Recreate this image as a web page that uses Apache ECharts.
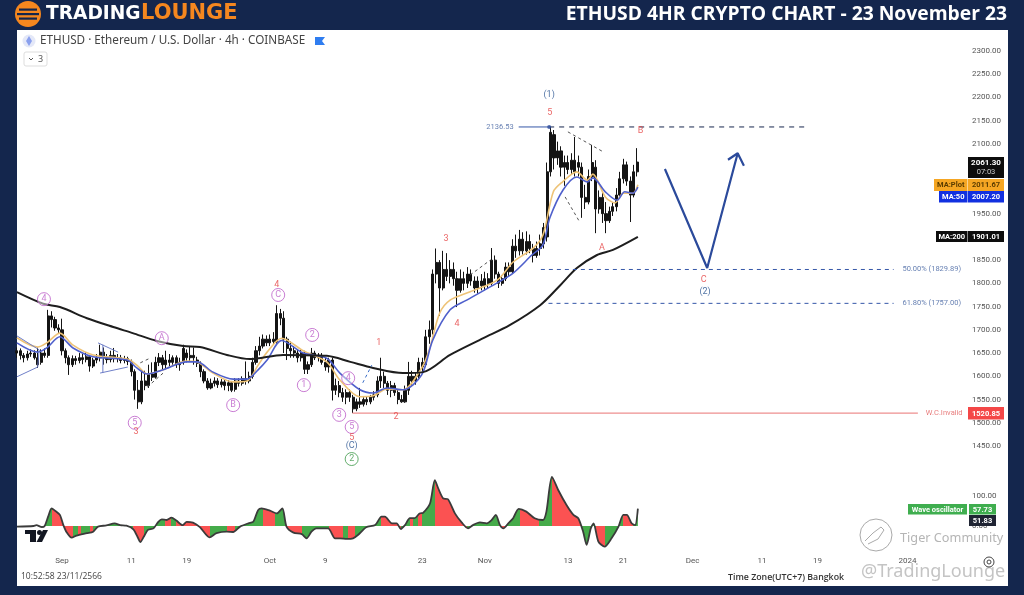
<!DOCTYPE html>
<html>
<head>
<meta charset="utf-8">
<title>ETHUSD 4HR CRYPTO CHART</title>
<script src="https://cdn.jsdelivr.net/npm/echarts@6/dist/echarts.min.js"></script>
<style>
html, body { margin: 0; padding: 0; background: #14264d; }
#chart { width: 1024px; height: 595px; }
</style>
</head>
<body>
<div id="chart"></div>
<script>
// x values everywhere are days counted from 1 Sep 2023
var xTickDays = [0, 10, 18, 30, 38, 52, 61, 73, 81, 91, 101, 109, 122, 130];
var xTickLabels = ["Sep", "11", "19", "Oct", "9", "23", "Nov", "13", "21", "Dec", "11", "19", "2024", ""];
var priceTicks = [2300, 2250, 2200, 2150, 2100, 2050, 2000, 1950, 1900, 1850, 1800, 1750, 1700, 1650, 1600, 1550, 1500, 1450];
var oscTicks = [100, 0];

var candleStartDay = -6.5;
var candleStepDays = 0.5;
// open, close, low, high
var candles = [
	[1650,1655,1640,1662],[1655,1645,1636,1660],[1645,1640,1630,1650],[1640,1648,1634,1655],[1648,1650,1642,1658],
	[1650,1640,1636,1656],[1640,1625,1618,1662],[1630,1650,1625,1658],[1650,1645,1640,1660],[1645,1730,1640,1743],
	[1730,1722,1705,1740],[1722,1704,1698,1728],[1704,1700,1692,1712],[1700,1655,1645,1724],[1655,1640,1628,1660],
	[1640,1625,1603,1645],[1625,1638,1620,1645],[1638,1634,1625,1644],[1634,1640,1628,1650],[1640,1636,1626,1648],
	[1636,1642,1630,1652],[1642,1622,1610,1646],[1622,1635,1618,1640],[1635,1640,1628,1648],[1640,1652,1632,1668],
	[1652,1640,1625,1662],[1640,1636,1628,1648],[1636,1645,1630,1655],[1645,1638,1630,1661],[1638,1640,1630,1648],
	[1640,1634,1628,1646],[1634,1638,1628,1644],[1638,1632,1624,1642],[1632,1610,1600,1636],[1610,1570,1550,1615],
	[1570,1545,1530,1592],[1545,1590,1540,1610],[1590,1580,1570,1612],[1580,1605,1575,1625],[1605,1598,1590,1630],
	[1598,1630,1595,1642],[1630,1640,1622,1650],[1640,1625,1615,1646],[1625,1635,1615,1655],[1635,1630,1622,1648],
	[1630,1640,1625,1645],[1640,1625,1618,1645],[1625,1630,1612,1640],[1630,1660,1625,1668],[1650,1640,1630,1658],
	[1640,1645,1632,1665],[1645,1640,1625,1662],[1635,1628,1620,1642],[1628,1610,1598,1632],[1610,1590,1585,1615],
	[1590,1575,1571,1596],[1575,1585,1572,1595],[1585,1590,1578,1598],[1590,1582,1575,1596],[1582,1588,1576,1594],
	[1588,1580,1570,1594],[1580,1586,1568,1592],[1586,1570,1566,1590],[1572,1590,1567,1596],[1590,1585,1578,1596],
	[1585,1595,1580,1600],[1595,1590,1582,1632],[1590,1600,1585,1610],[1600,1630,1595,1640],[1630,1655,1625,1665],
	[1655,1665,1645,1685],[1665,1680,1660,1690],[1680,1672,1665,1688],[1672,1680,1665,1690],[1680,1675,1668,1695],
	[1675,1735,1670,1753],[1735,1725,1710,1745],[1725,1680,1650,1740],[1680,1660,1635,1685],[1660,1655,1640,1675],
	[1655,1650,1640,1665],[1650,1640,1630,1658],[1640,1650,1632,1658],[1650,1615,1605,1655],[1615,1625,1605,1632],
	[1625,1650,1620,1661],[1650,1640,1635,1655],[1640,1645,1632,1650],[1645,1630,1625,1650],[1630,1620,1612,1640],
	[1620,1635,1608,1640],[1635,1570,1548,1640],[1570,1580,1560,1595],[1580,1565,1555,1590],[1565,1555,1545,1575],
	[1555,1565,1540,1572],[1565,1555,1545,1572],[1555,1530,1521,1560],[1530,1545,1525,1552],[1545,1540,1532,1575],
	[1540,1550,1535,1555],[1550,1545,1538,1556],[1545,1555,1540,1560],[1555,1560,1548,1568],[1560,1590,1555,1600],
	[1590,1600,1575,1640],[1600,1585,1575,1610],[1585,1570,1560,1590],[1570,1580,1555,1590],[1580,1565,1558,1586],
	[1565,1550,1540,1572],[1550,1545,1543,1560],[1545,1570,1543,1580],[1570,1600,1560,1631],[1600,1590,1580,1612],
	[1590,1600,1582,1608],[1600,1630,1595,1640],[1630,1620,1610,1640],[1625,1685,1620,1700],[1685,1700,1670,1720],
	[1700,1820,1690,1830],[1820,1845,1800,1875],[1845,1790,1730,1850],[1790,1830,1785,1870],[1830,1815,1805,1865],
	[1815,1830,1800,1850],[1830,1810,1795,1845],[1810,1785,1749,1825],[1785,1810,1780,1830],[1810,1800,1785,1825],
	[1800,1820,1790,1835],[1820,1805,1795,1830],[1805,1790,1780,1815],[1790,1805,1778,1815],[1805,1795,1785,1820],
	[1795,1810,1785,1825],[1810,1800,1790,1822],[1800,1850,1795,1876],[1850,1820,1810,1860],[1820,1800,1790,1825],
	[1800,1810,1795,1818],[1810,1835,1805,1845],[1835,1825,1815,1845],[1825,1880,1820,1895],[1880,1870,1855,1905],
	[1870,1895,1860,1915],[1895,1870,1862,1910],[1870,1890,1862,1912],[1890,1875,1865,1905],[1875,1860,1845,1885],
	[1860,1875,1855,1890],[1875,1885,1860,1905],[1885,1920,1875,1930],[1900,2040,1890,2060],[2040,2125,2030,2136.5],
	[2120,2070,2045,2130],[2070,2085,2055,2105],[2085,2050,2030,2095],[2050,2060,2010,2075],[2060,2045,2035,2075],
	[2045,2065,2035,2080],[2065,2040,2030,2115],[2060,2050,2030,2075],[2050,1985,1941,2060],[1985,1975,1960,2012],
	[1975,2030,1970,2045],[2030,2060,2020,2098],[2050,1960,1908,2065],[1960,1985,1950,2000],[1985,1950,1930,1995],
	[1950,1935,1908,1975],[1935,1955,1930,1965],[1955,1965,1945,1975],[1965,1990,1955,2005],[1990,2025,1985,2040],
	[2025,2055,2015,2068],[2055,2020,2010,2062],[2020,1990,1932,2030],[1990,2040,1985,2055],[2040,2061,2030,2091]
];

var ma200 = [[-6.5,1781],[-2.7,1756],[-0.3,1749],[3.6,1725],[7.4,1706],[10.2,1693],[13.7,1676],[17.5,1665],[19.9,1663],
	[23.8,1646],[27.1,1637],[31.9,1646],[38.2,1644],[41.6,1631],[44.9,1618],[49.2,1607],[52.1,1609],[56,1646],[60.8,1682],
	[64.6,1710],[69,1753],[71.9,1796],[74.3,1833],[77.2,1861],[79.5,1872],[83.1,1900]];
var ma50 = [[-6.5,1672],[-3.5,1652],[-2.2,1661],[-0.3,1685],[1.6,1661],[4.5,1642],[9.4,1635],[10.8,1618],[12.3,1605],
	[14.6,1614],[18,1631],[19.5,1631],[21.8,1609],[24.7,1594],[26.7,1594],[28.3,1614],[29.6,1635],[31.7,1677],[34.8,1650],
	[38.2,1639],[40.1,1607],[43,1571],[44.9,1564],[46.9,1575],[49.2,1571],[51.9,1603],[53.5,1678],[56,1743],[58.4,1764],
	[62.8,1801],[65.1,1822],[67.8,1861],[69.4,1883],[70.4,1941],[72.3,2001],[74.3,2029],[75.8,2018],[76.6,2027],[78.4,1997],
	[80.1,1979],[81.2,1997],[82.4,1994],[83.1,2007]];
var maPlot = [[-6.5,1683],[-3.5,1663],[-2.2,1672],[-0.3,1693],[1.6,1667],[4.5,1646],[9.4,1637],[10.8,1624],[12.3,1605],
	[14.6,1614],[18,1633],[19.5,1631],[21.8,1607],[24.7,1588],[26.7,1590],[28.3,1624],[29.6,1652],[31.7,1682],[34.8,1655],
	[38.2,1631],[40.1,1592],[43,1556],[44.9,1558],[46.9,1573],[49.2,1571],[51.9,1618],[53,1657],[54.5,1736],[56,1764],
	[58.9,1782],[62.8,1807],[65.1,1846],[68,1876],[69.4,1904],[70.9,1997],[72.2,2018],[74.3,2040],[75.8,2022],[76.6,2035],
	[78.4,1986],[79.8,1973],[81,1994],[82.4,1994],[83.1,2012]];

var oscillator = [[-6.5,-2],[-4.1,0],[-3.7,3],[-2.9,-4],[-2.5,0],[-2,31],[-1.5,59],[-1,51],[-0.3,37],[0.2,3],[0.7,-22],
	[1.4,-39],[2.1,-32],[3.6,-24],[4.5,-19],[5.2,-2],[6.4,2],[7.6,9],[8.4,3],[9.3,1],[10.3,-11],[11,-41],[11.3,-54],[11.8,-36],
	[12.4,-13],[13.2,-8],[13.9,14],[14.4,22],[15.1,20],[15.8,28],[16.5,18],[17.4,3],[18,14],[18.9,11],[19.9,-4],[21.3,-38],
	[22.3,-24],[23.8,-19],[24.7,-20],[25.7,-2],[26.9,9],[27.6,14],[28.3,53],[28.8,59],[30,51],[31,42],[31.8,59],[32.4,-2],
	[33.4,-22],[34.6,-27],[35.3,-41],[36,-19],[36.7,-8],[38.4,-8],[39.4,-41],[40.1,-41],[41.1,-43],[42,-41],[42.7,-30],
	[43.9,-4],[45.2,3],[46.1,31],[46.6,31],[47.6,9],[48.3,9],[48.9,-10],[49.5,3],[50.2,26],[50.9,26],[51.6,42],[52.1,44],
	[53.1,75],[53.8,153],[54.3,125],[55,92],[55.7,89],[56.7,42],[57.7,11],[58.6,-8],[59.3,3],[60.3,12],[61.3,9],[62,20],
	[62.6,37],[63.2,3],[63.7,-8],[64.4,9],[65.1,26],[65.9,57],[67,48],[68.2,26],[69.4,20],[69.9,48],[70.7,164],[71.6,120],
	[72.8,70],[73.8,37],[74.5,26],[75.2,-19],[75.7,-63],[76.3,-8],[76.7,9],[77.4,-52],[78.3,-69],[79.3,-41],[80.3,-2],[81,37],
	[81.5,37],[82.2,9],[82.7,3],[83.1,57.73]];
// the fill changes colour at each break, the first colour runs up to the first break
var oscBreaks = [-1.5,1.6,2.3,2.8,4,4.5,10.3,11.8,14.9,15.7,16.5,21.3,23.8,24.9,29,30.8,32.4,34.6,38.6,40.6,41.3,42.3,46.1,
	48.9,50.2,50.7,51.4,51.9,53.8,58.4,63,63.9,66.1,68.9,70.7,75.1,77.1,78.3,81,82.4,90];
var oscFirstIsGreen = true;

var wavePurple = [[-2.6,1766,"4"],[14.4,1682,"A"],[10.5,1500,"5"],[24.7,1538,"B"],[31.2,1775,"C"],[36.1,1689,"2"],
	[34.9,1581,"1"],[41.3,1596,"4"],[40,1517,"3"],[41.8,1491,"5"]];
var waveGreen = [[41.8,1422,"2"]];
var waveRed = [[10.7,1480,"3"],[31,1797,"4"],[41.8,1467,"5"],[45.7,1672,"1"],[48.2,1513,"2"],[55.4,1895,"3"],[57,1713,"4"],
	[70.4,2167,"5"],[83.5,2128,"B"],[77.9,1876,"A"],[92.6,1807,"C"]];
var waveBlue = [[41.8,1450,"(C)"],[70.3,2205,"(1)"],[92.8,1781,"(2)"]];
var levelLabels = [[63.2,2136.5,"2136.53","#3f5f9f"],[125.5,1830,"50.00% (1829.89)","#3f5f9f"],[125.5,1757,"61.80% (1757.00)","#3f5f9f"],
	[127.3,1521,"W.C.Invalid","#e25c5c"]];

var highLevelSolid = [[65.9,2136.53],[70.3,2136.53]];
var highLevelDash = [[70.3,2136.53],[107.6,2136.53]];
var fibLevel50 = [[69.1,1829.89],[120,1829.89]];
var fibLevel618 = [[70.2,1757],[120,1757]];
var invalidLevel = [[41.9,1520.85],[123.5,1520.85]];
var projection = [[87,2046],[93.1,1833],[97.5,2080]];
var projectionHead = [[96.1,2066],[97.5,2080],[98.4,2053]];
var wedgeLeft = [[-6.5,1687],[-3.3,1657],[-3.5,1620],[-6.5,1599]];
var wedgeTop = [[5.2,1672],[8.1,1652]];
var wedgeStem = [[5.9,1668],[5.9,1607]];
var wedgeBottom = [[5.5,1607],[9.5,1620]];
var dashBlue = [[43.4,1586],[44.7,1624]];
var dashGrey = [
	[[73,2126],[78.1,2083]],
	[[72.6,1986],[74.7,1932]],
	[[12.3,1577],[14.6,1607]],
	[[11.3,1629],[12.7,1639]],
	[[58.9,1818],[61.8,1850]]
];

var NAVY = "#14264d";
var BLUE = "#4f60cc";
var ORANGE = "#eec377";
var TEXT_FONT = "Roboto";

function getCandleData() {
	var rows = [];
	for (var i = 0; i < candles.length; i++) {
		rows.push([candleStartDay + i * candleStepDays].concat(candles[i]));
	}
	return rows;
}

function getOscPieces() {
	var pieces = [];
	var low = -10;
	var green = oscFirstIsGreen;
	for (var i = 0; i < oscBreaks.length; i++) {
		pieces.push({ min : low, max : oscBreaks[i], color : green ? "#45ab4a" : "#fb5252" });
		low = oscBreaks[i];
		green = !green;
	}
	return pieces;
}

function lineSeries(points, color, width, type, smooth) {
	return {
		type : "line",
		data : points,
		showSymbol : false,
		smooth : smooth ? 0.3 : false,
		silent : true,
		lineStyle : { color : color, width : width, type : type || "solid" },
		z : 3
	};
}

function waveSeries(points, color, circled, fontSize) {
	return {
		type : "scatter",
		data : points,
		symbol : "circle",
		symbolSize : circled ? 13 : 1,
		silent : true,
		itemStyle : circled ? { color : "rgba(255,255,255,0.6)", borderColor : color, borderWidth : 1 } : { color : "rgba(0,0,0,0)" },
		label : {
			show : true,
			position : "inside",
			color : color,
			fontSize : fontSize,
			fontFamily : TEXT_FONT,
			formatter : function(p) { return p.value[2]; }
		},
		z : 5
	};
}

function levelTextSeries() {
	return {
		type : "scatter",
		data : levelLabels.map(function(row) {
			return { value : row, label : { color : row[3] } };
		}),
		symbolSize : 1,
		silent : true,
		itemStyle : { color : "rgba(0,0,0,0)" },
		label : {
			show : true,
			position : "inside",
			fontSize : 7.5,
			fontFamily : TEXT_FONT,
			formatter : function(p) { return p.value[2]; }
		},
		z : 5
	};
}

function rect(x, y, w, h, fill, z) {
	return { type : "rect", shape : { x : x, y : y, width : w, height : h }, style : { fill : fill }, z : z === undefined ? 20 : z, silent : true };
}

function text(x, y, str, fill, font, align) {
	return {
		type : "text", x : x, y : y, z : 21, silent : true,
		style : { text : str, fill : fill, font : font, textAlign : align || "left", textVerticalAlign : "middle" }
	};
}

function poly(points, fill) {
	return { type : "polygon", shape : { points : points }, style : { fill : fill }, z : 21, silent : true };
}

function tag(x, y, w, h, str, fill, color) {
	return [
		rect(x, y, w, h, fill),
		text(x + w / 2, y + h / 2 + 0.5, str, color, "bold 7.5px " + TEXT_FONT, "center")
	];
}

function getGraphics() {
	var tagFont = "bold 8px " + TEXT_FONT;
	var items = [
		rect(17, 30, 991, 556, "#ffffff", -10),
		// logo
		{ type : "circle", shape : { cx : 28, cy : 14, r : 13 }, style : { fill : "#f5871f" }, z : 19, silent : true },
		rect(19, 8.5, 18, 2.2, NAVY),
		rect(17, 13, 22, 2.2, NAVY),
		rect(19, 17.5, 18, 2.2, NAVY),
		text(46, 14, "TRADING", "#ffffff", "bold 18.6px 'DejaVu Sans'"),
		text(141, 14, "LOUNGE", "#f5871f", "bold 21px 'DejaVu Sans'"),
		text(1007, 15, "ETHUSD 4HR CRYPTO CHART - 23 November 23", "#ffffff", "bold 19.3px 'Open Sans'", "right"),
		// symbol header
		{ type : "circle", shape : { cx : 29, cy : 41, r : 6.5 }, style : { fill : "#e4e8f8" }, z : 21, silent : true },
		poly([[29, 36], [32, 41], [29, 46], [26, 41]], "#8aa0ee"),
		text(40, 41, "ETHUSD · Ethereum / U.S. Dollar · 4h · COINBASE", "#444444", "11.7px 'Noto Sans'"),
		poly([[315, 37], [325, 37], [322, 41], [325, 45], [315, 45]], "#2f7df0"),
		{ type : "rect", shape : { x : 24, y : 52, width : 23, height : 14, r : 2 }, style : { fill : "#ffffff", stroke : "#dddddd" }, z : 21, silent : true },
		{ type : "polyline", shape : { points : [[29, 58], [31, 60], [33, 58]] }, style : { stroke : "#555555", fill : null, lineWidth : 1 }, z : 21, silent : true },
		text(38, 59, "3", "#555555", "9px 'Noto Sans'"),
		// trading view mark
		rect(25, 530, 11, 4, "#131722"),
		rect(30, 530, 6, 12, "#131722"),
		{ type : "circle", shape : { cx : 39.5, cy : 532.5, r : 2.5 }, style : { fill : "#131722" }, z : 21, silent : true },
		poly([[43, 530], [48, 530], [42, 542], [36.5, 542]], "#131722"),
		// footer
		text(21, 577, "10:52:58 23/11/2566", "#444444", "8.5px 'Open Sans'"),
		text(728, 577, "Time Zone(UTC+7) Bangkok", "#333333", "600 8.8px 'Open Sans'"),
		// watermarks
		{ type : "circle", shape : { cx : 876, cy : 535, r : 16 }, style : { fill : "rgba(255,255,255,0.4)", stroke : "#aaaaaa", lineWidth : 1 }, z : 21, silent : true },
		{ type : "polyline", shape : { points : [[865, 541], [873, 533], [881, 527], [884, 530], [878, 539], [868, 544]] }, style : { stroke : "#aaaaaa", fill : null, lineWidth : 1 }, z : 21, silent : true },
		{ type : "text", x : 900, y : 538, z : 21, silent : true, style : { text : "Tiger Community", fill : "#b5b5b5", font : "12.7px 'Noto Sans'", textVerticalAlign : "middle" } },
		{ type : "text", x : 861, y : 572, z : 21, silent : true, style : { text : "@TradingLounge", fill : "#c4c4c4", font : "18px 'Noto Sans'", textVerticalAlign : "middle" } },
		// gear
		{ type : "circle", shape : { cx : 989, cy : 562, r : 5 }, style : { fill : "none", stroke : "#444444", lineWidth : 1 }, z : 21, silent : true },
		{ type : "circle", shape : { cx : 989, cy : 562, r : 2 }, style : { fill : "none", stroke : "#444444", lineWidth : 1 }, z : 21, silent : true },
		// price tags
		rect(968, 157, 36, 21, "#0d0d0d"),
		text(986, 163, "2061.30", "#ffffff", tagFont, "center"),
		text(986, 172, "07:03", "#cccccc", "7.5px " + TEXT_FONT, "center")
	];
	return items
		.concat(tag(934, 179, 33.5, 12, "MA:Plot", "#f5a623", "#5a3c00"))
		.concat(tag(968, 179, 36, 12, "2011.67", "#f5a623", "#5a3c00"))
		.concat(tag(939, 191, 28.5, 11.5, "MA:50", "#1230e0", "#ffffff"))
		.concat(tag(968, 191, 36, 11.5, "2007.20", "#1230e0", "#ffffff"))
		.concat(tag(936, 231, 31.5, 11, "MA:200", "#0d0d0d", "#ffffff"))
		.concat(tag(968, 231, 36, 11, "1901.01", "#0d0d0d", "#ffffff"))
		.concat(tag(968, 407, 36, 12.5, "1520.85", "#f44747", "#ffffff"))
		.concat(tag(908, 504, 59, 10.5, "Wave oscillator", "#3fae4f", "#ffffff"))
		.concat(tag(969, 504, 27, 10.5, "57.73", "#3fae4f", "#ffffff"))
		.concat(tag(969, 515, 27, 11, "51.83", "#1f2433", "#ffffff"));
}

function getSeries() {
	var series = [
		{
			name : "oscFill",
			type : "line",
			xAxisIndex : 1,
			yAxisIndex : 1,
			data : oscillator,
			showSymbol : false,
			smooth : 0.25,
			silent : true,
			lineStyle : { width : 0 },
			areaStyle : { opacity : 1, origin : 0 },
			z : 2
		},
		{
			name : "oscLine",
			type : "line",
			xAxisIndex : 1,
			yAxisIndex : 1,
			data : oscillator,
			showSymbol : false,
			smooth : 0.25,
			silent : true,
			lineStyle : { color : "#3b3b3b", width : 1.8 },
			z : 3
		},
		{
			name : "ETHUSD",
			type : "candlestick",
			data : getCandleData(),
			barWidth : 2.6,
			silent : true,
			itemStyle : { color : "#141414", color0 : "#141414", borderColor : "#141414", borderColor0 : "#141414", borderWidth : 1 },
			z : 2
		},
		lineSeries(maPlot, ORANGE, 1.6, "solid", true),
		lineSeries(ma50, BLUE, 1.6, "solid", true),
		lineSeries(ma200, "#1e1e1e", 2, "solid", true),
		lineSeries(highLevelSolid, "#3557a8", 1),
		lineSeries(highLevelDash, "#16264d", 1, [5, 5]),
		lineSeries(fibLevel50, "#3557a8", 1, [4, 4]),
		lineSeries(fibLevel618, "#3557a8", 1, [4, 4]),
		lineSeries(invalidLevel, "#ee8f8f", 1.4),
		lineSeries(projection, "#2b4a9b", 2.2),
		lineSeries(projectionHead, "#2b4a9b", 2.2),
		lineSeries(wedgeLeft, "#6f7fc8", 1),
		lineSeries(wedgeTop, "#6f7fc8", 1),
		lineSeries(wedgeStem, "#6f7fc8", 1),
		lineSeries(wedgeBottom, "#6f7fc8", 1),
		lineSeries(dashBlue, "#3a6ec8", 1, [3, 3]),
		{
			type : "scatter",
			data : [highLevelSolid[1]],
			symbolSize : 4,
			silent : true,
			itemStyle : { color : "#2b4a9b" },
			z : 4
		},
		waveSeries(wavePurple, "#bb5cc8", true, 9),
		waveSeries(waveGreen, "#3f9a4a", true, 9),
		waveSeries(waveRed, "#e53e3e", false, 9),
		waveSeries(waveBlue, "#24508f", false, 9),
		levelTextSeries()
	];
	for (var i = 0; i < dashGrey.length; i++) {
		series.push(lineSeries(dashGrey[i], "#555555", 1, [3, 3]));
	}
	return series;
}

function getOptions() {
	var axisText = { color : "#555555", fontSize : 8, fontFamily : TEXT_FONT };
	return {
		animation : false,
		backgroundColor : NAVY,
		graphic : { elements : getGraphics() },
		grid : [
			{ left : 17, width : 948, top : 27.76, height : 441.5 },
			{ left : 17, width : 948, top : 470, height : 80 }
		],
		xAxis : [
			{ type : "value", gridIndex : 0, min : -6.49, max : 130.3, show : false, splitLine : { show : false } },
			{
				type : "value",
				gridIndex : 1,
				min : -6.49,
				max : 130.3,
				splitLine : { show : false },
				axisLine : { show : false },
				axisTick : { show : false },
				axisLabel : {
					color : axisText.color,
					fontSize : axisText.fontSize,
					fontFamily : axisText.fontFamily,
					margin : 7,
					customValues : xTickDays,
					showMinLabel : true,
					showMaxLabel : true,
					formatter : function(v) { return xTickLabels[xTickDays.indexOf(v)]; }
				}
			}
		],
		yAxis : [
			{
				type : "value",
				gridIndex : 0,
				position : "right",
				min : 1400,
				max : 2350,
				splitLine : { show : false },
				axisLine : { show : false },
				axisTick : { show : false },
				axisLabel : {
					color : axisText.color,
					fontSize : axisText.fontSize,
					fontFamily : axisText.fontFamily,
					margin : 7,
					customValues : priceTicks,
					formatter : function(v) { return v.toFixed(2); }
				}
			},
			{
				type : "value",
				gridIndex : 1,
				position : "right",
				min : -80,
				max : 186.67,
				splitLine : { show : false },
				axisLine : { show : false },
				axisTick : { show : false },
				axisLabel : {
					color : axisText.color,
					fontSize : axisText.fontSize,
					fontFamily : axisText.fontFamily,
					margin : 7,
					customValues : oscTicks,
					formatter : function(v) { return v.toFixed(2); }
				}
			}
		],
		visualMap : {
			show : false,
			type : "piecewise",
			seriesIndex : 0,
			dimension : 0,
			pieces : getOscPieces()
		},
		series : getSeries()
	};
}

var myChart = echarts.init(document.getElementById("chart"));
myChart.setOption(getOptions());
</script>
</body>
</html>
